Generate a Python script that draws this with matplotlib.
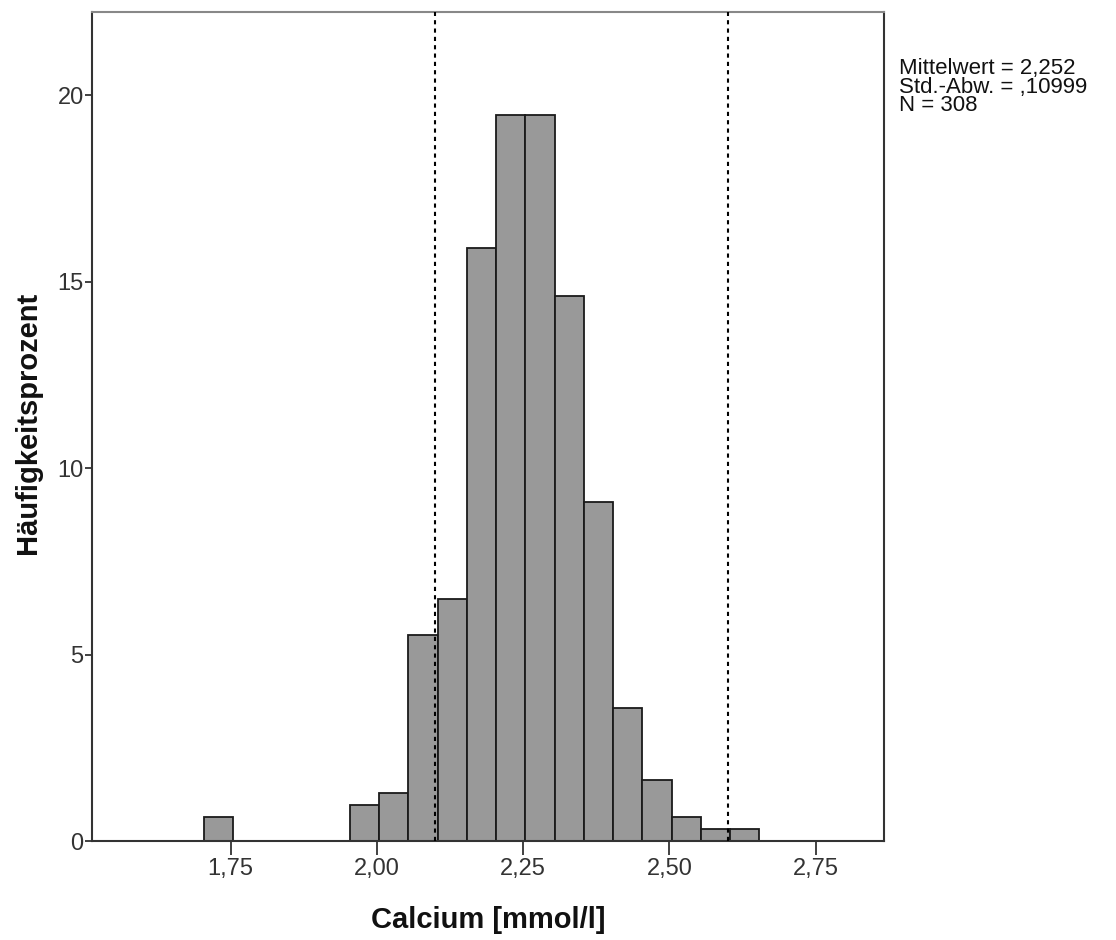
import numpy as np
import matplotlib
matplotlib.use("Agg")
import matplotlib.pyplot as plt

plt.rcParams['font.family'] = ['Liberation Sans', 'DejaVu Sans']

# === DATA ===
bin_start = 1.704
bin_width = 0.05
# counts per bin (N = 308), bins from bin_start
counts = [2, 0, 0, 0, 0, 3, 4, 17, 20, 49, 60, 60, 45, 28, 11, 5, 2, 1, 1]
n_total = 308
ref_lines = [2.10, 2.60]
x_ticks = [1.75, 2.00, 2.25, 2.50, 2.75]
y_ticks = [0, 5, 10, 15, 20]
stats_text = "Mittelwert = 2,252\nStd.-Abw. = ,10999\nN = 308"

percent = [100.0 * c / n_total for c in counts]
lefts = [bin_start + i * bin_width for i in range(len(counts))]

fig = plt.figure(figsize=(11.16, 9.4), dpi=100)
ax = fig.add_axes([0.0824, 0.1053, 0.7098, 0.8817])

# skip empty bins so no flat outline is drawn
for x, p in zip(lefts, percent):
    if p > 0:
        ax.bar(x, p, width=bin_width, align='edge', color='#999999',
               edgecolor='#1a1a1a', linewidth=1.3, zorder=2)

for v in ref_lines:
    ax.axvline(v, color='black', linestyle=(0, (2, 2)), linewidth=1.5, zorder=3)

ax.set_xlim(1.513, 2.867)
ax.set_ylim(0, 22.23)
ax.set_xticks(x_ticks)
ax.set_xticklabels([f"{t:.2f}".replace('.', ',') for t in x_ticks])
ax.set_yticks(y_ticks)
ax.tick_params(axis='both', direction='out', width=1.3, color='#333333',
               labelsize=17, labelcolor='#333333')
ax.tick_params(axis='x', length=10, pad=2)
ax.tick_params(axis='y', length=5, pad=1)
for side in ['left', 'bottom', 'right', 'top']:
    ax.spines[side].set_color('#333333')
    ax.spines[side].set_linewidth(1.5)
ax.spines['top'].set_color('#888888')

ax.set_xlabel('Calcium [mmol/l]', fontsize=21, fontweight='bold', color='#111111')
ax.set_ylabel('Häufigkeitsprozent', fontsize=21, fontweight='bold', color='#111111')
ax.xaxis.set_label_coords(0.5, -0.078)
ax.yaxis.set_label_coords(-0.063, 0.505)

fig.text(0.806, 0.938, stats_text, fontsize=16, color='#111111',
         va='top', ha='left', linespacing=0.84)

fig.savefig('out.png', dpi=100)
